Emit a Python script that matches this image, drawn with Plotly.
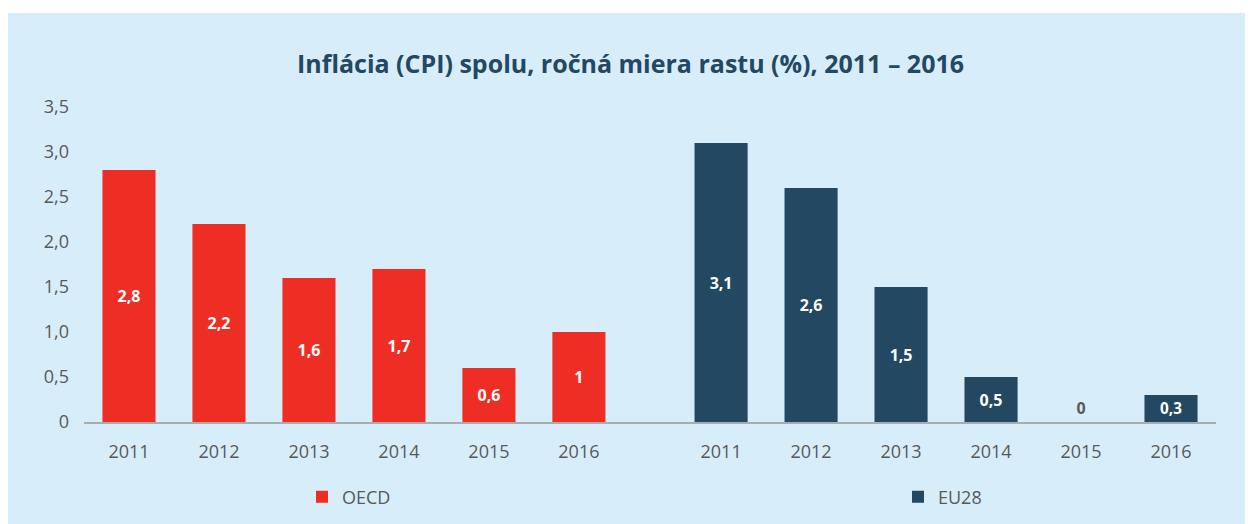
import plotly.graph_objects as go

# data
years = ['2011', '2012', '2013', '2014', '2015', '2016']
oecd = [2.8, 2.2, 1.6, 1.7, 0.6, 1.0]
eu28 = [3.1, 2.6, 1.5, 0.5, 0.0, 0.3]
y_ticks = [0, 0.5, 1.0, 1.5, 2.0, 2.5, 3.0, 3.5]
y_labels = ['0', '0,5', '1,0', '1,5', '2,0', '2,5', '3,0', '3,5']

COLORS = {
    'oecd': '#ee2e24',
    'eu': '#234862',
    'bg': '#d8edfa',
    'text': '#595959',
    'title': '#234862',
    'axis': '#a9adb0',
}
FONT = 'Open Sans'

W, H = 1245, 516          # page body adds an 8px margin
L, R, T, B = 76, 37, 99, 102
PW, PH = W - L - R, H - T - B

GAP = 0.58  # extra space between the two groups (in category widths)
x_oecd = list(range(len(years)))
x_eu = [i + len(years) + GAP for i in range(len(years))]


def fmt(v):
    s = ('%.1f' % v).rstrip('0').rstrip('.')
    return s.replace('.', ',')


def series(name, xs, ys, color, legend):
    pos = ['outside' if v == 0 else 'inside' for v in ys]
    return go.Bar(
        name=name,
        x=xs,
        y=ys,
        width=0.59,
        marker_color=color,
        marker_line_width=0,
        text=[fmt(v) for v in ys],
        textposition=pos,
        insidetextanchor='middle',
        insidetextfont=dict(color='white', size=16, family=FONT, weight='bold'),
        outsidetextfont=dict(color=COLORS['text'], size=16, family=FONT, weight='bold'),
        cliponaxis=False,
        legend=legend,
    )


fig = go.Figure()
fig.add_trace(series('OECD', x_oecd, oecd, COLORS['oecd'], 'legend'))
fig.add_trace(series('EU28', x_eu, eu28, COLORS['eu'], 'legend2'))

# thin white strip at the top
fig.add_shape(
    type='rect', xref='paper', yref='paper',
    x0=-L / PW - 0.05, x1=1 + R / PW + 0.05,
    y0=1 + (T - 5) / PH, y1=1 + T / PH + 0.05,
    fillcolor='white', line_width=0, layer='below',
)

legend_style = dict(
    orientation='h',
    yanchor='middle',
    y=-(489 - (T + PH)) / PH,
    xanchor='left',
    itemwidth=30,
    bgcolor='rgba(0,0,0,0)',
    font=dict(size=18, color=COLORS['text'], family=FONT),
)

fig.update_layout(
    width=W,
    height=H,
    paper_bgcolor=COLORS['bg'],
    plot_bgcolor='rgba(0,0,0,0)',
    margin=dict(l=L, r=R, t=T, b=B, autoexpand=False),
    font=dict(family=FONT, color=COLORS['text'], size=18),
    title=dict(
        text='Inflácia (CPI) spolu, ročná miera rastu (%), 2011 – 2016',
        x=0.5, xanchor='center', y=1 - 56 / H, yanchor='middle',
        font=dict(family=FONT, size=25, color=COLORS['title'], weight='bold'),
    ),
    legend=dict(legend_style, x=(294 - L) / PW),
    legend2=dict(legend_style, x=(890 - L) / PW),
    showlegend=True,
)

fig.update_xaxes(
    range=[-0.5, x_eu[-1] + 0.5],
    tickvals=x_oecd + x_eu,
    ticktext=years + years,
    showgrid=False,
    zeroline=False,
    showline=True,
    linecolor=COLORS['axis'],
    linewidth=2,
    ticks='',
    ticklabelstandoff=12,
    tickfont=dict(size=18, color=COLORS['text'], family=FONT),
)
fig.update_yaxes(
    range=[0, 3.5],
    tickvals=y_ticks,
    ticktext=y_labels,
    showgrid=False,
    zeroline=False,
    showline=False,
    ticks='',
    ticklabelstandoff=14,
    tickfont=dict(size=18, color=COLORS['text'], family=FONT),
)

fig.write_html('out.html')
